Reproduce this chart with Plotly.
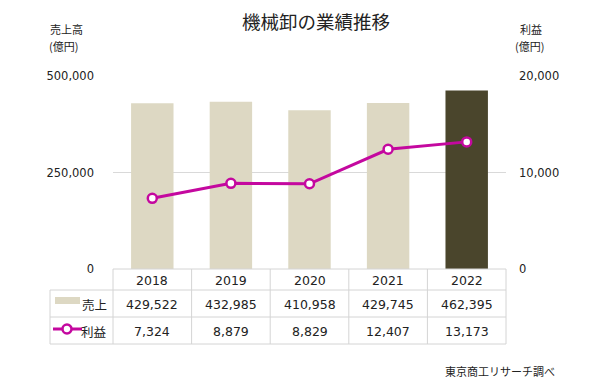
import plotly.graph_objects as go

years = ["2018", "2019", "2020", "2021", "2022"]
sales = [429522, 432985, 410958, 429745, 462395]
profit = [7324, 8879, 8829, 12407, 13173]
left_ticks = [0, 250000, 500000]
right_ticks = [0, 10000, 20000]

title = "機械卸の業績推移"
sales_name = "売上"
profit_name = "利益"
source = "東京商工リサーチ調べ"

FONT = "Noto Sans CJK JP"
NUMFONT = "DejaVu Sans"
BAR = "#DDD8C3"
BAR_HI = "#4A452C"
LINE = "#C4089F"
GRID = "#D9D9D9"
TXT = "#222222"

bar_colors = [BAR] * (len(years) - 1) + [BAR_HI]

# page body has an 8px default margin; work in page pixels and subtract it
OFF = 8
PW, PH = 594, 388
W, H = PW - OFF, PH - OFF
plot_l, plot_r, plot_t, plot_b = 113, 506, 76, 269
L, R, T, B = plot_l - OFF, PW - plot_r, plot_t - OFF, PH - plot_b

fig = go.Figure()
fig.add_trace(go.Bar(x=years, y=sales, marker=dict(color=bar_colors, line=dict(width=0)),
                     width=0.54, name=sales_name, yaxis="y", showlegend=False))
fig.add_trace(go.Scatter(x=years, y=profit, mode="lines+markers", name=profit_name,
                         yaxis="y2", showlegend=False,
                         line=dict(color=LINE, width=3),
                         marker=dict(symbol="circle", size=9, color="white",
                                     line=dict(color=LINE, width=2.5))))

fig.update_layout(
    width=W, height=H,
    margin=dict(l=L, r=R, t=T, b=B, pad=0),
    paper_bgcolor="white", plot_bgcolor="white",
    font=dict(family=FONT, size=12, color=TXT),
    xaxis=dict(type="category", showticklabels=False, showgrid=False, zeroline=False,
               showline=False, range=[-0.5, 4.5], fixedrange=True),
    yaxis=dict(range=[0, 500000], tickvals=left_ticks,
               ticktext=[f"{v:,}" for v in left_ticks],
               showgrid=True, gridcolor=GRID, gridwidth=1, zeroline=False,
               showline=False, ticks="", ticklabelstandoff=18,
               tickfont=dict(family=NUMFONT, size=11.5, color=TXT)),
    yaxis2=dict(range=[0, 20000], tickvals=right_ticks,
                ticktext=[f"{v:,}" for v in right_ticks],
                overlaying="y", side="right", showgrid=False, zeroline=False,
                showline=False, ticks="", ticklabelstandoff=12,
                tickfont=dict(family=NUMFONT, size=11.5, color=TXT)),
)

# helpers: page pixel -> paper coordinates
pw, ph = plot_r - plot_l, plot_b - plot_t
def px(x):
    return (x - plot_l) / pw
def py(y):
    return (plot_b - y) / ph

shapes = []
def line(x0, y0, x1, y1, color="#D4D4D4"):
    shapes.append(dict(type="line", xref="paper", yref="paper",
                       x0=px(x0), y0=py(y0), x1=px(x1), y1=py(y1),
                       line=dict(color=color, width=1)))

# table geometry
tab_left, tab_mid, tab_right = 50, plot_l, plot_r
r0, r1, r2, r3 = plot_b, 290, 317, 344
ncol = len(years)
col_edges = [tab_mid + i * (tab_right - tab_mid) / ncol for i in range(ncol + 1)]

line(tab_mid, r0, tab_right, r0)
line(tab_left, r1, tab_right, r1)
line(tab_left, r2, tab_right, r2)
line(tab_left, r3, tab_right, r3)
line(tab_left, r1, tab_left, r3)
for xe in col_edges:
    line(xe, r0, xe, r3)

# legend symbols
shapes.append(dict(type="rect", xref="paper", yref="paper",
                   x0=px(55), x1=px(80), y0=py(297), y1=py(304),
                   fillcolor=BAR, line=dict(width=0)))
shapes.append(dict(type="line", xref="paper", yref="paper",
                   x0=px(53), x1=px(82), y0=py(329), y1=py(329),
                   line=dict(color=LINE, width=3)))
shapes.append(dict(type="circle", xref="paper", yref="paper",
                   x0=px(62.5), x1=px(71.5), y0=py(333.5), y1=py(324.5),
                   fillcolor="white", line=dict(color=LINE, width=2.5)))
fig.update_layout(shapes=shapes)

ann = []
def text(x, y, s, size=12, xanchor="center", xref="paper", family=FONT):
    ann.append(dict(x=x, y=y, xref=xref, yref="paper", text=s, showarrow=False,
                    xanchor=xanchor, yanchor="middle",
                    font=dict(family=family, size=size, color=TXT)))

for i, yr in enumerate(years):
    text(i, py((r0 + r1) / 2 + 1), yr, size=12.5, xref="x", family=NUMFONT)
    text(i, py((r1 + r2) / 2 + 1), f"{sales[i]:,}", size=12.5, xref="x", family=NUMFONT)
    text(i, py((r2 + r3) / 2 + 1), f"{profit[i]:,}", size=12.5, xref="x", family=NUMFONT)
text(px(109), py((r1 + r2) / 2 + 1), sales_name, size=12.5, xanchor="right")
text(px(109), py((r2 + r3) / 2 + 1), profit_name, size=12.5, xanchor="right")

text(px(316), py(21), title, size=18.5)
text(px(48), py(29), "売上高", size=11, xanchor="left")
text(px(47), py(46), "(億円)", size=11, xanchor="left")
text(px(518), py(29), "利益", size=11, xanchor="left")
text(px(513), py(46), "(億円)", size=11, xanchor="left")
text(px(443), py(371), source, size=11, xanchor="left")

fig.update_layout(annotations=ann)
fig.write_html("out.html")
